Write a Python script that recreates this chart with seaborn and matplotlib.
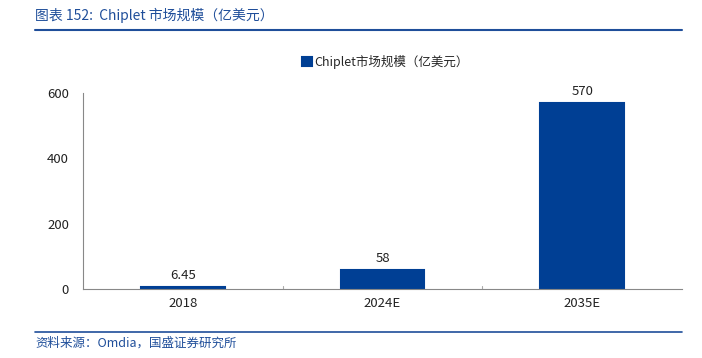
import numpy as np
import pandas as pd
import matplotlib
matplotlib.use("Agg")
import matplotlib.pyplot as plt
import seaborn as sns

# Chiplet market size (100M USD)
years = ["2018", "2024E", "2035E"]
market_size = [6.45, 58, 570]
value_labels = ["6.45", "58", "570"]
y_ticks = [0, 200, 400, 600]

series_name = "Chiplet市场规模（亿美元）"
title_text = "图表 152:  Chiplet 市场规模（亿美元）"
source_text = "资料来源：Omdia，国盛证券研究所"

BAR_COLOR = "#003F94"
BLUE = "#1F4E9A"

sns.set_style("white")
plt.rcParams['font.family'] = ['Noto Sans CJK SC', 'DejaVu Sans']

data = pd.DataFrame({"year": years, "value": market_size, "series": series_name})

fig = plt.figure(figsize=(7.02, 3.58), dpi=100)
ax = fig.add_axes([83 / 702, 1 - 289 / 358, (682 - 83) / 702, (289 - 93) / 358])

sns.barplot(data=data, x="year", y="value", hue="series",
            palette=[BAR_COLOR], saturation=1, width=0.42, ax=ax, legend=True,
            edgecolor=BAR_COLOR, linewidth=1.5)

ax.set_ylim(0, 600)
ax.set_xlim(-0.5, 2.5)
ax.set_yticks(y_ticks)
ax.set_xlabel("")
ax.set_ylabel("")
ax.tick_params(axis="both", labelsize=9.5, colors="#222222", length=0, pad=6)
ax.tick_params(axis="y", direction="in", length=3, color="#888888", pad=10)

for side in ["top", "right"]:
    ax.spines[side].set_visible(False)
for side in ["left", "bottom"]:
    ax.spines[side].set_color("#888888")
    ax.spines[side].set_linewidth(0.8)

# small category separator ticks on the x axis
for b in [0.5, 1.5]:
    ax.plot([b, b], [0, 9], color="#aaaaaa", lw=0.8, clip_on=False)

for i, (v, lab) in enumerate(zip(market_size, value_labels)):
    ax.text(i, v + 16, lab, ha="center", va="bottom", fontsize=9.5, color="#222222")

ax.legend(loc="center", bbox_to_anchor=(385 / 702, 1 - 62 / 358),
          bbox_transform=fig.transFigure, frameon=False, fontsize=9,
          handlelength=0.8, handleheight=0.8, handletextpad=0.2)

# header and footer
fig.text(35 / 702, 1 - 15 / 358, title_text, fontsize=10, color=BLUE,
         style="italic", va="center", ha="left")
fig.add_artist(plt.Line2D([35 / 702, 682 / 702], [1 - 30 / 358, 1 - 30 / 358],
                          color=BLUE, lw=1.5))
fig.add_artist(plt.Line2D([35 / 702, 682 / 702], [1 - 332 / 358, 1 - 332 / 358],
                          color=BLUE, lw=1.2))
fig.text(35 / 702, 1 - 343 / 358, source_text, fontsize=9, color=BLUE,
         style="italic", va="center", ha="left")

fig.savefig("out.png", dpi=100)
